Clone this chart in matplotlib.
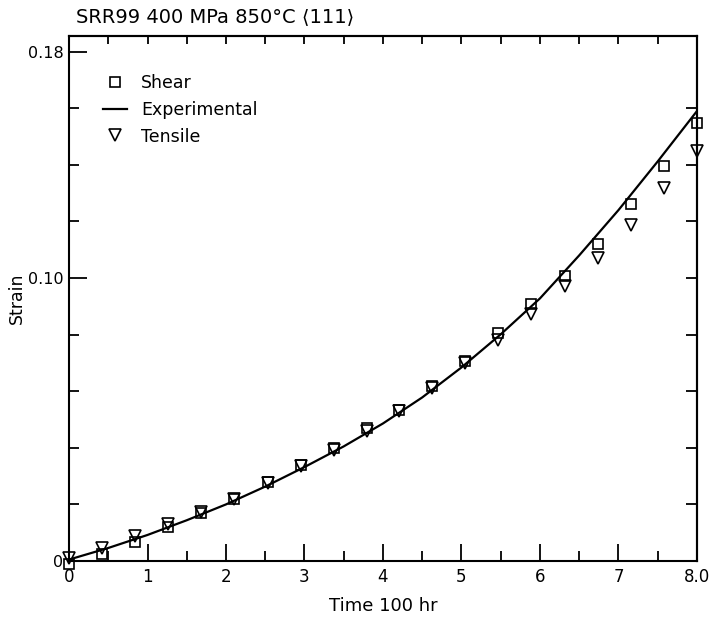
import numpy as np
import matplotlib
matplotlib.use("Agg")
import matplotlib.pyplot as plt
from matplotlib.lines import Line2D

plt.rcParams['font.family'] = ['DejaVu Sans']

# time (100 hr) of the plotted points
time_pts = [0.0, 0.42, 0.84, 1.26, 1.68, 2.10, 2.53, 2.95, 3.37, 3.79,
            4.21, 4.63, 5.05, 5.47, 5.89, 6.32, 6.74, 7.16, 7.58, 8.0]
shear = [-0.0012, 0.0026, 0.0067, 0.0120, 0.0170, 0.0218, 0.0278, 0.0340, 0.0400, 0.0470,
         0.0534, 0.0620, 0.0705, 0.0806, 0.0907, 0.1008, 0.1120, 0.1262, 0.1396, 0.1548]
tensile = [0.0010, 0.0045, 0.0088, 0.0130, 0.0172, 0.0220, 0.0274, 0.0335, 0.0393, 0.0461,
           0.0530, 0.0612, 0.0700, 0.0782, 0.0872, 0.0972, 0.1072, 0.1187, 0.1318, 0.1448]

# experimental creep curve
time_exp = [0.0, 0.5, 1.0, 1.5, 2.0, 2.5, 3.0, 3.5, 4.0, 4.5, 5.0, 5.5, 6.0, 6.5, 7.0, 7.5, 8.0]
strain_exp = [0.0005, 0.0046, 0.0092, 0.0144, 0.0200, 0.0263, 0.0332, 0.0405, 0.0486, 0.0578,
              0.0684, 0.0801, 0.0928, 0.1080, 0.1240, 0.1412, 0.1590]

xtick_labels = ['0', '1', '2', '3', '4', '5', '6', '7', '8.0']

fig = plt.figure(figsize=(7.09, 6.24), dpi=100)
ax = fig.add_axes([69/709, 63/624, 628/709, 525/624])

ax.plot(time_exp, strain_exp, color='black', lw=1.6, zorder=3)
ax.plot(time_pts, shear, ls='none', marker='s', ms=7.5, mfc='none', mec='black',
        mew=1.2, clip_on=False, zorder=4)
ax.plot(time_pts, tensile, ls='none', marker='v', ms=8.5, mfc='none', mec='black',
        mew=1.2, clip_on=False, zorder=4)

ax.set_xlim(0, 8.0)
ax.set_ylim(0, 0.1855)

ax.set_xticks(range(9))
ax.set_xticklabels(xtick_labels)
ax.set_xticks(np.arange(0.5, 8, 1.0), minor=True)
ax.set_yticks([0, 0.10, 0.18])
ax.set_yticklabels(['0', '0.10', '0.18'])
ax.set_yticks([0.02, 0.04, 0.06, 0.08, 0.12, 0.14, 0.16], minor=True)

ax.tick_params(which='major', direction='in', length=12, width=1.3, labelsize=12, pad=5)
ax.tick_params(which='minor', direction='in', length=7, width=1.3)
ax.tick_params(axis='y', which='major', length=13, labelsize=11.5, pad=4)

# top and right edges carry their own short ticks
top = ax.secondary_xaxis('top')
top.set_xticks(np.arange(0.5, 8, 0.5))
top.tick_params(direction='in', length=6, width=1.3, labeltop=False)
right = ax.secondary_yaxis('right')
right.set_yticks([0.02, 0.04, 0.06, 0.08, 0.10, 0.12, 0.14, 0.16])
right.tick_params(direction='in', length=8, width=1.3, labelright=False)
for a in (ax, top, right):
    for s in a.spines.values():
        s.set_linewidth(1.5)

ax.set_xlabel('Time 100 hr', fontsize=13, labelpad=8)
ax.set_ylabel('Strain', fontsize=12.5)
ax.yaxis.set_label_coords(-0.068, 0.5)

fig.text(76/709, 1 - 17/624, 'SRR99 400 MPa 850\u00b0C \u27e8111\u27e9',
         fontsize=14, va='center', ha='left')

handles = [Line2D([], [], ls='none', marker='s', ms=7.5, mfc='none', mec='black', mew=1.2),
           Line2D([], [], color='black', lw=1.6),
           Line2D([], [], ls='none', marker='v', ms=8.5, mfc='none', mec='black', mew=1.2)]
ax.legend(handles, ['Shear', 'Experimental', 'Tensile'], loc='upper left',
          bbox_to_anchor=(0.029, 0.957), frameon=False, fontsize=12.5,
          handlelength=1.4, handletextpad=0.8, labelspacing=0.5)

fig.savefig('out.png', dpi=100)
